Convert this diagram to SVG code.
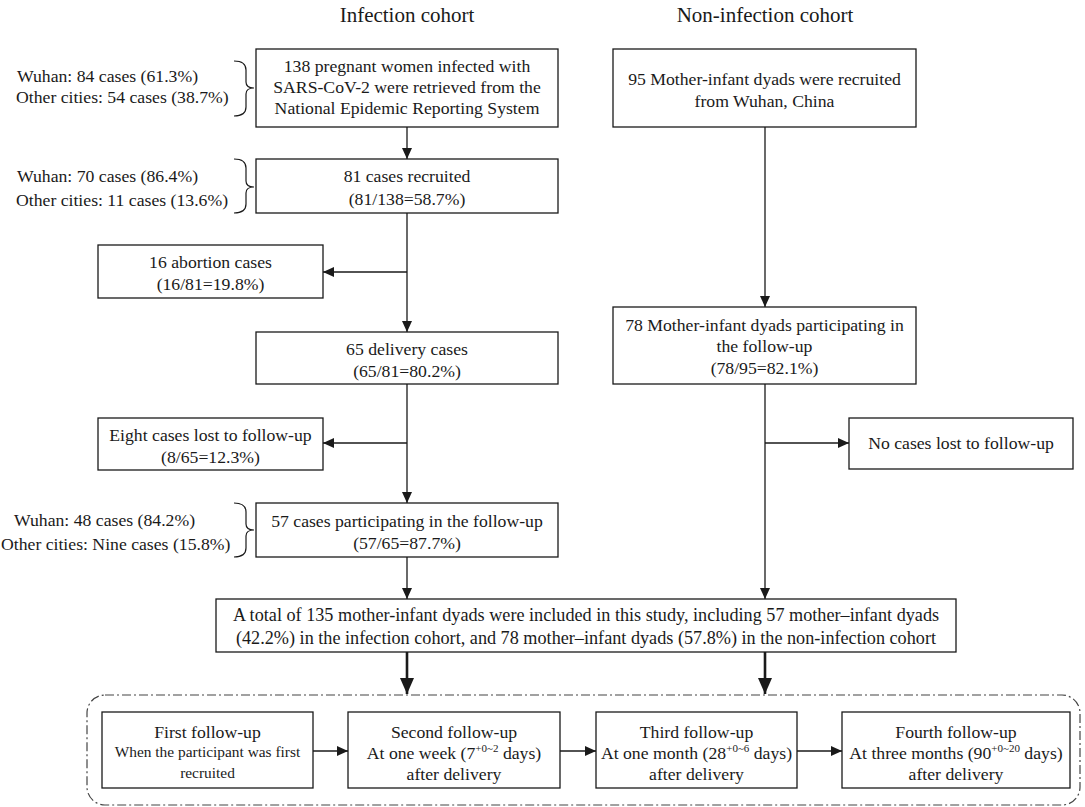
<svg xmlns="http://www.w3.org/2000/svg" width="1085" height="807" viewBox="0 0 1085 807">
<defs>
<style>
text{font-family:"Liberation Serif","Times New Roman",serif;fill:#1a1a1a;font-size:17.7px}
.c{text-anchor:middle}
.t{font-size:21px}
.s{font-size:15.4px}
.b{font-size:18.2px}
.box{fill:#fff;stroke:#1a1a1a;stroke-width:1.3}
.ln{fill:none;stroke:#1a1a1a;stroke-width:1.3}
.thick{fill:none;stroke:#1a1a1a;stroke-width:2.6}
.brace{fill:none;stroke:#1a1a1a;stroke-width:1.2}
.cont{fill:none;stroke:#444;stroke-width:1.2;stroke-dasharray:9 3 2 3}
.sup{font-size:11px}
</style>
<marker id="ah" markerUnits="userSpaceOnUse" markerWidth="11" markerHeight="10" refX="11" refY="5" orient="auto"><path d="M0,0 L11,5 L0,10 z" fill="#1a1a1a"/></marker>
<marker id="ahb" markerUnits="userSpaceOnUse" markerWidth="16" markerHeight="14" refX="16" refY="7" orient="auto"><path d="M0,0 L16,7 L0,14 z" fill="#1a1a1a"/></marker>
</defs>
<rect width="1085" height="807" fill="#fff"/>
<text class="c t" x="407" y="22">Infection cohort</text>
<text class="c t" x="765" y="22">Non-infection cohort</text>

<g id="connectors">
<path class="ln" d="M407,127 V159" marker-end="url(#ah)"/>
<path class="ln" d="M407,213 V332" marker-end="url(#ah)"/>
<path class="ln" d="M407,272 H323" marker-end="url(#ah)"/>
<path class="ln" d="M407,384 V503" marker-end="url(#ah)"/>
<path class="ln" d="M407,443 H323" marker-end="url(#ah)"/>
<path class="ln" d="M407,557 V599" marker-end="url(#ah)"/>
<path class="ln" d="M765,127 V307" marker-end="url(#ah)"/>
<path class="ln" d="M765,384 V599" marker-end="url(#ah)"/>
<path class="ln" d="M765,443 H849" marker-end="url(#ah)"/>
<path class="thick" d="M407,652 V694" marker-end="url(#ahb)"/>
<path class="thick" d="M765,652 V694" marker-end="url(#ahb)"/>
<path class="ln" d="M313,751 H348" marker-end="url(#ah)"/>
<path class="ln" d="M560,751 H596" marker-end="url(#ah)"/>
<path class="ln" d="M797,751 H842" marker-end="url(#ah)"/>
</g>

<g id="braces">
<path class="brace" d="M234,61 Q246,61 246,70 L246,82 Q246,88 254,88 Q246,88 246,94 L246,107 Q246,116 234,116"/>
<path class="brace" d="M234,159 Q246,159 246,168 L246,181 Q246,187 254,187 Q246,187 246,193 L246,204 Q246,213 234,213"/>
<path class="brace" d="M234,503 Q246,503 246,512 L246,524 Q246,530 254,530 Q246,530 246,536 L246,548 Q246,557 234,557"/>
</g>

<g id="label-cities1">
<text x="17" y="82">Wuhan: 84 cases (61.3%)</text>
<text x="16" y="103">Other cities: 54 cases (38.7%)</text>
</g>
<g id="label-cities2">
<text x="17" y="182">Wuhan: 70 cases (86.4%)</text>
<text x="16" y="206">Other cities: 11 cases (13.6%)</text>
</g>
<g id="label-cities3">
<text x="14" y="526">Wuhan: 48 cases (84.2%)</text>
<text x="1" y="550">Other cities: Nine cases (15.8%)</text>
</g>

<g id="n-retrieved">
<rect class="box" x="256" y="49" width="302" height="78"/>
<text class="c" x="407" y="72">138 pregnant women infected with</text>
<text class="c" x="407" y="93">SARS-CoV-2 were retrieved from the</text>
<text class="c" x="407" y="114">National Epidemic Reporting System</text>
</g>
<g id="n-recruited">
<rect class="box" x="256" y="159" width="302" height="54"/>
<text class="c" x="407" y="182">81 cases recruited</text>
<text class="c" x="407" y="205">(81/138=58.7%)</text>
</g>
<g id="n-abortion">
<rect class="box" x="98" y="245" width="225" height="53"/>
<text class="c" x="210.5" y="268">16 abortion cases</text>
<text class="c" x="210.5" y="290">(16/81=19.8%)</text>
</g>
<g id="n-delivery">
<rect class="box" x="256" y="332" width="302" height="52"/>
<text class="c" x="407" y="355">65 delivery cases</text>
<text class="c" x="407" y="377">(65/81=80.2%)</text>
</g>
<g id="n-lost">
<rect class="box" x="98" y="418" width="225" height="52"/>
<text class="c" x="210.5" y="441">Eight cases lost to follow-up</text>
<text class="c" x="210.5" y="463">(8/65=12.3%)</text>
</g>
<g id="n-participating">
<rect class="box" x="256" y="503" width="302" height="54"/>
<text class="c" x="407" y="527">57 cases participating in the follow-up</text>
<text class="c" x="407" y="549">(57/65=87.7%)</text>
</g>
<g id="n-noninf-recruited">
<rect class="box" x="613" y="49" width="303" height="78"/>
<text class="c" x="764.5" y="85">95 Mother-infant dyads were recruited</text>
<text class="c" x="764.5" y="107">from Wuhan, China</text>
</g>
<g id="n-noninf-participating">
<rect class="box" x="613" y="307" width="303" height="77"/>
<text class="c" x="764.5" y="331">78 Mother-infant dyads participating in</text>
<text class="c" x="764.5" y="352">the follow-up</text>
<text class="c" x="764.5" y="374">(78/95=82.1%)</text>
</g>
<g id="n-nolost">
<rect class="box" x="849" y="418" width="224" height="51"/>
<text class="c" x="961" y="449">No cases lost to follow-up</text>
</g>
<g id="n-total">
<rect class="box" x="216" y="599" width="740" height="53"/>
<text class="c b" x="586" y="621">A total of 135 mother-infant dyads were included in this study, including 57 mother–infant dyads</text>
<text class="c b" x="586" y="644">(42.2%) in the infection cohort, and 78 mother–infant dyads (57.8%) in the non-infection cohort</text>
</g>

<g id="followups">
<rect class="cont" x="87" y="695" width="993" height="110" rx="18" ry="18"/>
</g>
<g id="n-fu1">
<rect class="box" x="102" y="712" width="211" height="76"/>
<text class="c" x="207.5" y="738">First follow-up</text>
<text class="c s" x="207.5" y="757">When the participant was first</text>
<text class="c s" x="207.5" y="778">recruited</text>
</g>
<g id="n-fu2">
<rect class="box" x="348" y="712" width="212" height="76"/>
<text class="c" x="454" y="738">Second follow-up</text>
<text class="c" x="454" y="759">At one week (7<tspan class="sup" dy="-7">+0~2</tspan><tspan dy="7"> days)</tspan></text>
<text class="c" x="454" y="780">after delivery</text>
</g>
<g id="n-fu3">
<rect class="box" x="596" y="712" width="201" height="76"/>
<text class="c" x="696.5" y="738">Third follow-up</text>
<text class="c" x="696.5" y="759">At one month (28<tspan class="sup" dy="-7">+0~6</tspan><tspan dy="7"> days)</tspan></text>
<text class="c" x="696.5" y="780">after delivery</text>
</g>
<g id="n-fu4">
<rect class="box" x="842" y="712" width="228" height="76"/>
<text class="c" x="956" y="738">Fourth follow-up</text>
<text class="c" x="956" y="759">At three months (90<tspan class="sup" dy="-7">+0~20</tspan><tspan dy="7"> days)</tspan></text>
<text class="c" x="956" y="780">after delivery</text>
</g>
</svg>
